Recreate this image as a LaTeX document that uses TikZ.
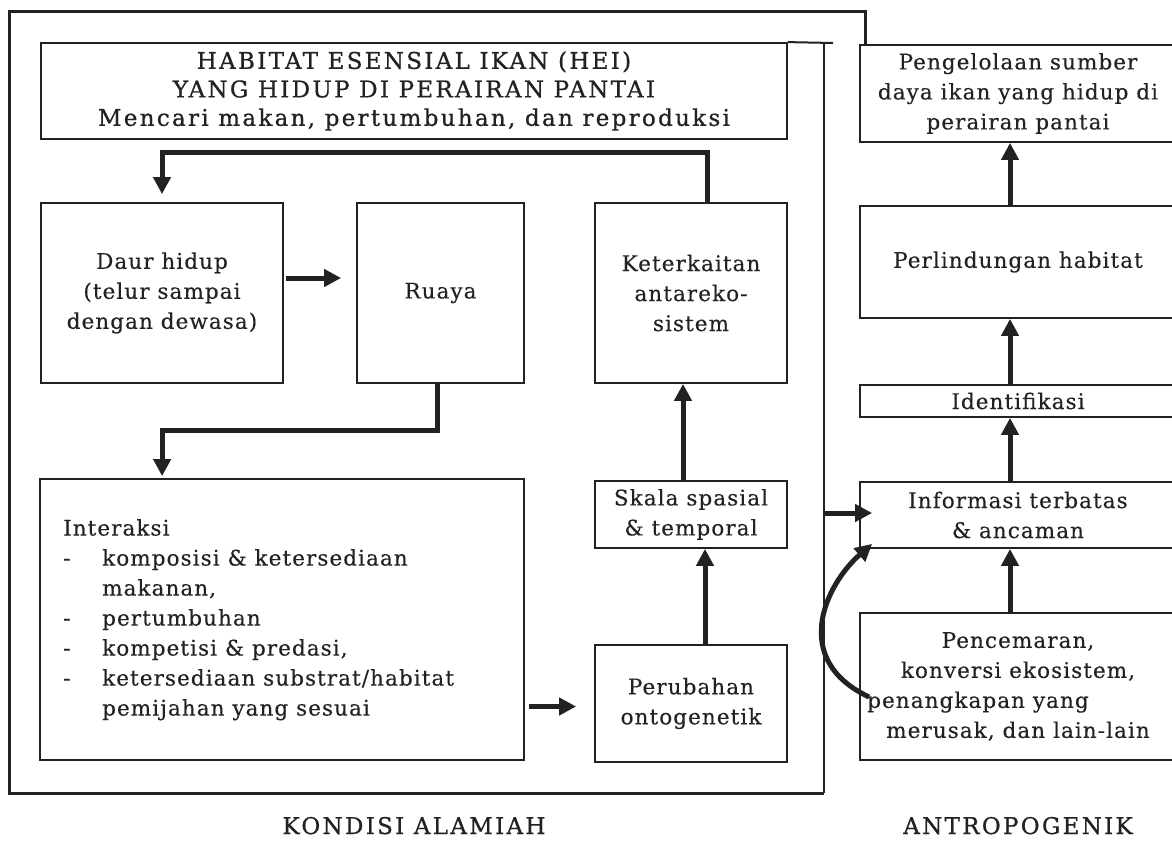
\documentclass[tikz,border=0pt]{standalone}
\usepackage{fontspec}
\setmainfont{DejaVu Serif}[LetterSpace=5]
\newfontfamily\bodyfam{DejaVu Serif}[LetterSpace=5,FakeBold=0.3]
\newfontfamily\titlefont{DejaVu Serif}[LetterSpace=10,FakeBold=0.8]
\usetikzlibrary{arrows.meta,calc}
\definecolor{ink}{HTML}{222222}
\newcommand\bodyfont{\bodyfam\fontsize{21.5}{30}\selectfont}
\tikzset{
  box/.style={draw=ink, line width=1.8pt, inner sep=0pt, text=ink, align=center, font=\bodyfont},
  arr/.style={draw=ink, line width=5pt, -{Triangle[length=17pt,width=17pt]}},
  frame/.style={draw=ink, line width=3pt},
  thinframe/.style={draw=ink, line width=2pt},
  lbl/.style={text=ink, inner sep=0pt, anchor=base, font=\titlefont\fontsize{23}{26}\selectfont}
}
\begin{document}
\begin{tikzpicture}[x=1pt,y=-1pt]
\useasboundingbox (0,0) rectangle (1172,843);
\clip (0,0) rectangle (1172,843);
\fill[white] (0,0) rectangle (1172,843);

% left column
\node[box, minimum width=746pt, minimum height=96pt, font=\titlefont\fontsize{23}{28.5}\selectfont] (hei) at (414,91)
  {HABITAT ESENSIAL IKAN (HEI)\\YANG HIDUP DI PERAIRAN PANTAI\\Mencari makan, pertumbuhan, dan reproduksi};
\node[box, minimum width=242pt, minimum height=180pt] (daur) at (162,293) {Daur hidup\\(telur sampai\\dengan dewasa)};
\node[box, minimum width=167pt, minimum height=180pt] (ruaya) at (440.5,293) {Ruaya};
\node[box, minimum width=192pt, minimum height=180pt] (ket) at (691,293) {Keterkaitan\\antareko-\\sistem};
\node[box, minimum width=484pt, minimum height=281pt] (inter) at (282,619.5) {};
\node[anchor=north west, inner sep=0pt, align=left, text=ink, font=\bodyfont] (intertext) at (63,519)
  {Interaksi\\
   \makebox[39pt][l]{-}komposisi \& ketersediaan\\
   \hspace*{39pt}makanan,\\
   \makebox[39pt][l]{-}pertumbuhan\\
   \makebox[39pt][l]{-}kompetisi \& predasi,\\
   \makebox[39pt][l]{-}ketersediaan substrat/habitat\\
   \hspace*{39pt}pemijahan yang sesuai};
\node[box, minimum width=192pt, minimum height=67pt] (skala) at (691,514.5) {Skala spasial\\\& temporal};
\node[box, minimum width=192pt, minimum height=117pt] (perub) at (691,703.5) {Perubahan\\ontogenetik};

% right column
\node[box, minimum width=316pt, minimum height=97pt] (peng) at (1018,93.5) {Pengelolaan sumber\\daya ikan yang hidup di\\perairan pantai};
\node[box, minimum width=316pt, minimum height=112pt] (perl) at (1018,262) {Perlindungan habitat};
\node[box, minimum width=316pt, minimum height=32pt] (ident) at (1018,401) {Identifikasi};
\node[box, minimum width=316pt, minimum height=66pt] (info) at (1018,515) {Informasi terbatas\\\& ancaman};
\node[box, minimum width=316pt, minimum height=147pt] (pen) at (1018,686.5)
  {Pencemaran,\\konversi ekosistem,\\penangkapan yang\hspace*{80pt}\mbox{}\\merusak, dan lain-lain};

% frame
\draw[frame] (865,45) -- (865,12) -- (9,12) -- (9,793) -- (824,793);
\draw[thinframe] (824,793) -- (824,43);
\draw[thinframe] (hei.north east) -- (833,43);

% labels
\node[lbl] (kondisi) at (414,834) {KONDISI ALAMIAH};
\node[lbl] (antro) at (1018,834) {ANTROPOGENIK};

% connectors left
\draw[arr] ([xshift=16pt]ket.north) -- ++(0,-50) -| ([yshift=8pt]daur.north);
\draw[arr] ([xshift=2pt,yshift=15pt]daur.east) -- ([xshift=-15pt,yshift=15pt]ruaya.west);
\draw[arr] ([xshift=-3pt]ruaya.south) -- ++(0,47) -| ($(inter.north west)+(123,-2)$);
\draw[arr] ($(inter.east |- perub.west)+(4,3)$) -- ($(perub.west)+(-18,3)$);
\draw[arr] ($(perub.north)+(14,0)$) -- ($(skala.south)+(14,0)$);
\draw[arr] ($(skala.north)+(-8,0)$) -- ($(ket.south)+(-8,0)$);

% connectors right
\draw[arr] ($(perl.north)+(-8,0)$) -- ($(peng.south)+(-8,0)$);
\draw[arr] ($(ident.north)+(-8,0)$) -- ($(perl.south)+(-8,0)$);
\draw[arr] ($(info.north)+(-8,0)$) -- ($(ident.south)+(-8,0)$);
\draw[arr] ($(pen.north)+(-8,0)$) -- ($(info.south)+(-8,0)$);

\coordinate (fr) at (824,513);
\draw[arr] (fr) -- ($(info.west)+(13,-2)$);
\draw[arr] ($(pen.west)+(10,10.5)$) .. controls (790,660) and (825,585) .. ($(info.south west)+(13,-5)$);
\end{tikzpicture}
\end{document}
